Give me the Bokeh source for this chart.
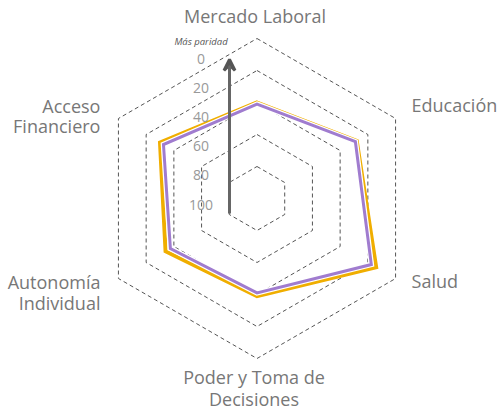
import numpy as np
from bokeh.plotting import figure
from bokeh.models import Range1d, Arrow, VeeHead
from bokeh.core.properties import value
from bokeh.embed import file_html
from bokeh.resources import INLINE

# ---- data ----
categories = ["Mercado Laboral", "Educación", "Salud",
              "Poder y Toma de\nDecisiones", "Autonomía\nIndividual", "Acceso\nFinanciero"]
serie_naranja = [40, 28, 14, 39, 34, 30]
serie_morada = [41, 29, 17.5, 41, 37.5, 32.5]
tick_values = [0, 20, 40, 60, 80, 100]
tick_labels = ["0", "20", "40", "60", "80", "100"]
ring_levels = [20, 40, 60, 80, 100]
arrow_label = "Más paridad"

# ---- geometry/style ----
W, H = 499, 412
PX = 160.0  # pixels per unit radius
CX, CY = 256.5, 198.0
angles = np.deg2rad([90, 30, -30, -90, -150, 150])

p = figure(width=W, height=H, output_backend="svg", toolbar_location=None,
           x_range=Range1d(-CX / PX, (W - CX) / PX),
           y_range=Range1d(-(H - CY) / PX, CY / PX),
           min_border=0, outline_line_color=None,
           background_fill_color="white", border_fill_color="white")
p.axis.visible = False
p.grid.visible = False


def radius(v):
    return 1 - v / 100.0


# rings
rxs, rys = [], []
for lvl in ring_levels:
    r = lvl / 100.0
    rxs.append(list(r * np.cos(angles)))
    rys.append(list(r * np.sin(angles)))
p.patches(rxs, rys, fill_color=None, line_color="#555555", line_width=1,
          line_dash="4 3")

# series
def poly(vals):
    r = np.array([radius(v) for v in vals])
    return list(r * np.cos(angles)), list(r * np.sin(angles))

xo, yo = poly(serie_naranja)
p.patch(xo, yo, fill_color=None, line_color="#F0AE00", line_width=4, line_join="miter")
xm, ym = poly(serie_morada)
p.patch(xm, ym, fill_color=None, line_color="white", line_width=5.5, line_join="miter")
p.patch(xm, ym, fill_color=None, line_color="#A07CCF", line_width=3, line_join="miter")

# arrow axis
AX = -27.5 / PX
p.add_layout(Arrow(x_start=AX, y_start=-15 / PX, x_end=AX, y_end=139 / PX,
                   line_color="#666666", line_width=3,
                   end=VeeHead(size=11, line_color="#555555", line_width=3,
                               fill_color="#555555")))

# tick labels on arrow axis (0 near outer, 100 near center)
T0, T100 = 139.5 / PX, -6.0 / PX
ty = [T0 + (T100 - T0) * v / 100.0 for v in tick_values]
p.text(x=[-56 / PX] * len(ty), y=ty, text=tick_labels, text_align="center",
       text_baseline="middle", text_font=value("Open Sans"), text_font_size="14px",
       text_color="#999999")
p.text(x=[-56 / PX], y=[157 / PX], text=[arrow_label], text_align="center",
       text_baseline="middle", text_font=value("Open Sans"), text_font_size="9.5px",
       text_font_style="italic", text_color="#555555")

# category labels: (x offset, y offset of each line's middle, align)
offsets = [(-2, [-22.5], "center"), (16, [-13.5], "left"), (16, [2.5], "left"),
           (-3, [18, 40], "center"), (-18, [3, 24], "right"), (-18, [-13, 7], "right")]
for cat, ang, (dx, dys, al) in zip(categories, angles, offsets):
    for ln, dy in zip(cat.split("\n"), dys):
        p.text(x=[np.cos(ang)], y=[np.sin(ang)], text=[ln], x_offset=dx, y_offset=dy,
               text_align=al, text_baseline="middle", text_font=value("Open Sans"),
               text_font_size="18px", text_color="#777777")

open("out.html", "w").write(file_html(p, INLINE))
